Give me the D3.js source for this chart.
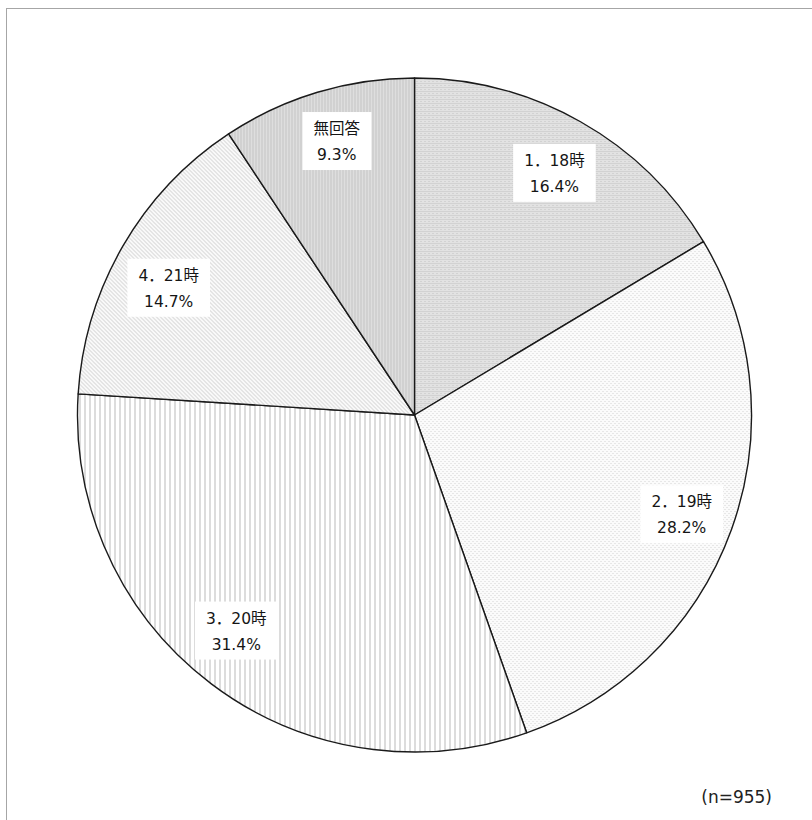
<!DOCTYPE html>
<html><head><meta charset="utf-8">
<script src="https://cdn.jsdelivr.net/npm/d3@7"></script>
<style>body{margin:0;background:#fff}svg{display:block}</style>
</head><body>
<svg id="c" width="812" height="820"></svg>
<script>
const categories = ["1．18時", "2．19時", "3．20時", "4．21時", "無回答"];
const values = [16.4, 28.2, 31.4, 14.7, 9.3];
const valueLabels = ["16.4%", "28.2%", "31.4%", "14.7%", "9.3%"];
const note = "(n=955)";

// layout: small label nudges (px) from the arc centroid, as placed in the original
const labelNudge = [[0, 2], [0, 0], [-7, -14], [0, 12], [4, -5]];

const svg = d3.select("#c");
const cx = 414.5, cy = 415, R = 337, LR = 284;
const defs = svg.append("defs");

function pat(id, w, h, bg, draw) {
  const p = defs.append("pattern").attr("id", id).attr("patternUnits", "userSpaceOnUse")
    .attr("width", w).attr("height", h);
  p.append("rect").attr("width", w).attr("height", h).attr("fill", bg);
  draw(p);
}
pat("p0", 4, 4, "#e2e2e2", p => {
  [[0,0],[2,2],[2,0]].forEach(([x,y]) => p.append("rect").attr("x",x).attr("y",y).attr("width",1).attr("height",1).attr("fill","#c2c2c2"));
});
pat("p1", 4, 4, "#fbfbfb", p => {
  [[0,0],[2,2]].forEach(([x,y]) => p.append("rect").attr("x",x).attr("y",y).attr("width",1).attr("height",1).attr("fill","#d2d2d2"));
});
pat("p2", 5, 5, "#ffffff", p => {
  p.append("rect").attr("x",0).attr("y",0).attr("width",1).attr("height",5).attr("fill","#b8b8b8");
});
pat("p3", 4, 4, "#ffffff", p => {
  p.append("path").attr("d","M-1,-1 L5,5 M-1,3 L1,5 M3,-1 L5,1").attr("stroke","#d6d6d6").attr("stroke-width",1.2);
});
pat("p4", 3, 3, "#dedede", p => {
  p.append("rect").attr("x",0).attr("y",0).attr("width",1).attr("height",3).attr("fill","#c4c4c4");
});

svg.append("rect").attr("x", 6.5).attr("y", 8.5).attr("width", 820).attr("height", 830)
  .attr("fill", "none").attr("stroke", "#a6a6a6").attr("stroke-width", 1);

const pie = d3.pie().sort(null).value(d => d)(values);
const arc = d3.arc().innerRadius(0).outerRadius(R);
const labelArc = d3.arc().innerRadius(LR).outerRadius(LR);

const g = svg.append("g").attr("transform", `translate(${cx},${cy})`);
g.selectAll("path.slice").data(pie).enter().append("path")
  .attr("class", "slice")
  .attr("d", arc)
  .attr("fill", (d, i) => `url(#p${i})`)
  .attr("stroke", "#1a1a1a").attr("stroke-width", 1.4).attr("stroke-linejoin", "round");

const font = "'DejaVu Sans', 'Noto Sans CJK JP', sans-serif";
pie.forEach((d, i) => {
  const [lx, ly] = labelArc.centroid(d);
  const [nx, ny] = labelNudge[i];
  const lg = g.append("g").attr("transform", `translate(${lx + nx},${ly + ny})`);
  const bg = lg.append("rect").attr("fill", "#ffffff");
  const t = lg.append("text").attr("text-anchor", "middle").attr("font-family", font)
    .attr("font-size", 15.5).attr("fill", "#151515");
  t.append("tspan").attr("x", 0).attr("y", -4).text(categories[i]);
  t.append("tspan").attr("x", 0).attr("y", 22).text(valueLabels[i]);
  const bb = t.node().getBBox();
  bg.attr("x", bb.x - 11).attr("y", bb.y - 8).attr("width", bb.width + 22).attr("height", bb.height + 14);
});

svg.append("text").attr("x", 772).attr("y", 803).attr("text-anchor", "end")
  .attr("font-family", font).attr("font-size", 17).attr("fill", "#222").text(note);
</script>
</body></html>
